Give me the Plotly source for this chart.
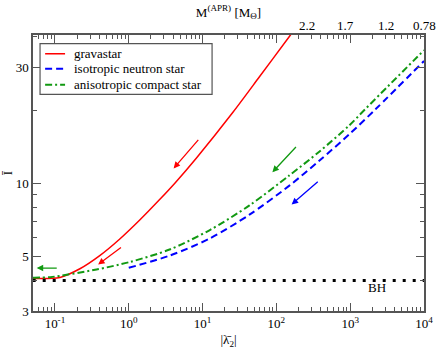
import math
import plotly.graph_objects as go

# ---- data ----
series_names = ["gravastar", "isotropic neutron star", "anisotropic compact star"]

grav_x = [0.05, 0.117, 0.218, 0.405, 0.757, 1.41, 2.62, 4.3, 8.22, 25.8, 59, 150, 175]
grav_y = [4.08, 4.12, 4.47, 5.06, 5.92, 7.08, 8.59, 10.1, 12.7, 19.6, 27.4, 40.1, 42.7]

iso_x = [1.0, 3.58, 12.4, 43.2, 150, 381, 970, 2220, 10000]
iso_y = [4.51, 5.06, 5.94, 7.45, 9.8, 12.4, 15.9, 20.2, 31.8]

aniso_x = [0.05, 0.0865, 0.366, 1.02, 3.58, 12.4, 43.2, 150, 381, 970, 1630, 10000]
aniso_y = [4.11, 4.13, 4.44, 4.76, 5.36, 6.43, 8.13, 10.8, 13.5, 17.3, 20.3, 35.2]

bh_x = [0.05, 10000]
bh_y = [4.0, 4.0]

top_tick_x = [257, 857, 3040, 10000]
top_tick_text = ["2.2", "1.7", "1.2", "0.78"]

x_major = [0.1, 1, 10, 100, 1000, 10000]
x_major_text = ["10<sup>-1</sup>", "10<sup>0</sup>", "10<sup>1</sup>", "10<sup>2</sup>",
                "10<sup>3</sup>", "10<sup>4</sup>"]
y_major = [3, 5, 10, 30]
y_minor = [4, 6, 7, 8, 9, 20, 40]

FONT = "'Liberation Serif', 'Times New Roman', 'DejaVu Serif', serif"
AX = "#555555"
COLORS = ["#ff0000", "#0000ff", "#119911"]
DASHES = ["solid", "7px,4px", "7px,3px,2px,3px"]
WIDTHS = [1.5, 2, 2]

x_minor = [m * 10 ** e for e in range(-2, 4) for m in range(2, 10)]
x_minor = [v for v in x_minor if 0.05 <= v <= 10000]

fig = go.Figure()
for (xs, ys), name, c, d, w in zip([(grav_x, grav_y), (iso_x, iso_y), (aniso_x, aniso_y)],
                                   series_names, COLORS, DASHES, WIDTHS):
    fig.add_trace(go.Scatter(x=xs, y=ys, mode="lines", name=name, showlegend=False,
                             line=dict(color=c, width=w, dash=d, shape="spline",
                                       smoothing=0.8)))
fig.add_trace(go.Scatter(x=bh_x, y=bh_y, mode="lines", showlegend=False,
                         line=dict(color="black", width=3, dash="3px,7px")))
# invisible trace to activate top axis
fig.add_trace(go.Scatter(x=[1], y=[4], xaxis="x2", mode="markers",
                         marker=dict(opacity=0), showlegend=False, hoverinfo="skip"))

tick_common = dict(showgrid=False, zeroline=False, showline=True, linecolor=AX,
                   linewidth=1.5, ticks="inside", ticklen=8, tickcolor=AX, tickwidth=1,
                   automargin=False)

fig.update_layout(
    width=436, height=353,
    margin=dict(l=33, r=12, t=34.5, b=42.3, autoexpand=False),
    plot_bgcolor="white", paper_bgcolor="white",
    font=dict(family=FONT, size=13, color="black"),
    showlegend=False,
    xaxis=dict(type="log", range=[-1.297, 4], **tick_common,
               tickvals=x_major, ticktext=x_major_text,
               minor=dict(tickvals=x_minor, ticks="inside", ticklen=4, tickcolor=AX),
               title=dict(text="|λ̄<sub>2</sub>|", standoff=5, font=dict(size=13))),
    xaxis2=dict(type="log", range=[-1.297, 4], overlaying="x", side="top", anchor="y",
                **tick_common, tickvals=x_major, showticklabels=False,
                minor=dict(tickvals=x_minor, ticks="inside", ticklen=4, tickcolor=AX),
                title=dict(text="M<sup>(APR)</sup> [M<sub>Θ</sub>]", standoff=13,
                           font=dict(size=13))),
    yaxis=dict(type="log", range=[0.4771, 1.609], **tick_common, mirror="ticks",
               tickvals=y_major, ticktext=[str(v) for v in y_major],
               minor=dict(tickvals=y_minor, ticks="inside", ticklen=4, tickcolor=AX),
               title=dict(text="Ī", standoff=12, font=dict(size=13))),
)

# top (mass) axis labels
for xv, txt in zip(top_tick_x, top_tick_text):
    fig.add_annotation(x=math.log10(xv), y=1.0, xref="x", yref="paper", text=txt,
                       showarrow=False, yanchor="bottom", yshift=0,
                       font=dict(family=FONT, size=13))

# legend box drawn by hand (Grace style)
fig.add_shape(type="rect", xref="paper", yref="paper", x0=0.018, x1=0.458,
              y0=0.785, y1=0.969, line=dict(color=AX, width=1.2), fillcolor="white",
              layer="above")
rows = [0.932, 0.878, 0.820]
for name, c, d, w, ry in zip(series_names, COLORS, DASHES, WIDTHS, rows):
    fig.add_shape(type="line", xref="paper", yref="paper", x0=0.031, x1=0.082,
                  y0=ry, y1=ry, line=dict(color=c, width=w, dash=d), layer="above")
    fig.add_annotation(x=0.100, y=ry, xref="paper", yref="paper", text=name,
                       showarrow=False, xanchor="left", yanchor="middle",
                       font=dict(family=FONT, size=13))

arrows = [
    (0.960, 1.185, 0.608, 1.062, "#ff0000"),
    (-0.085, 0.742, -0.415, 0.668, "#ff0000"),
    (2.284, 1.156, 1.946, 1.046, "#119911"),
    (2.581, 1.013, 2.207, 0.914, "#0000ff"),
    (-0.955, 0.653, -1.247, 0.653, "#119911"),
]
for tx, ty, hx, hy, c in arrows:
    fig.add_annotation(x=hx, y=hy, ax=tx, ay=ty, xref="x", yref="y", axref="x", ayref="y",
                       showarrow=True, arrowhead=2, arrowsize=1, arrowwidth=1.3,
                       arrowcolor=c, text="")

fig.add_annotation(x=3.365, y=0.575, xref="x", yref="y", text="BH", showarrow=False,
                   font=dict(family=FONT, size=13))

fig.write_html("out.html", config={"displayModeBar": False},
               post_script="document.body.style.margin='0';")
